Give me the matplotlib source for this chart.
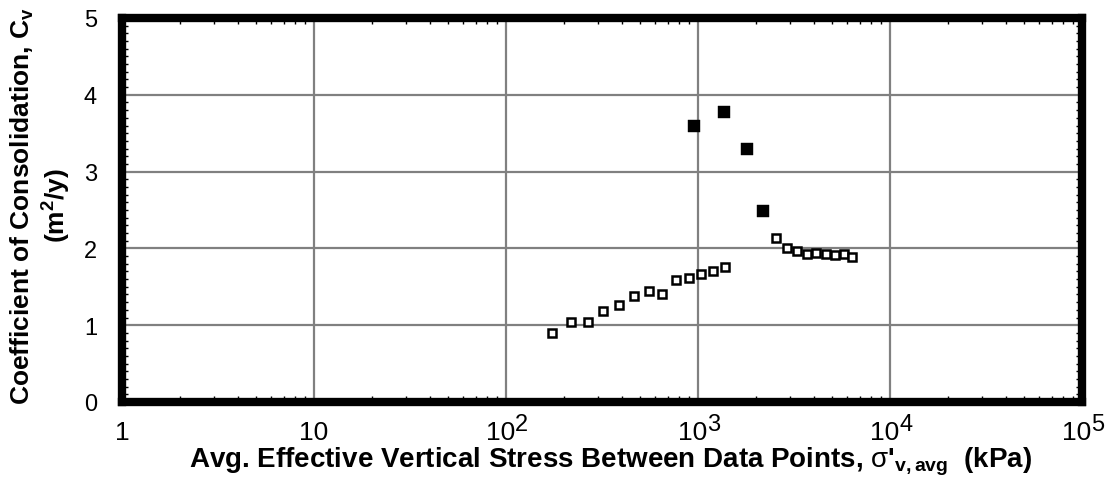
import matplotlib
matplotlib.use("Agg")
import matplotlib.pyplot as plt
from matplotlib.ticker import FixedLocator, NullFormatter, MultipleLocator
import numpy as np

plt.rcParams['font.family'] = ['Liberation Sans', 'DejaVu Sans']
plt.rcParams['mathtext.fontset'] = 'custom'
plt.rcParams['mathtext.rm'] = 'Liberation Sans'
plt.rcParams['mathtext.it'] = 'Liberation Sans:italic'
plt.rcParams['mathtext.bf'] = 'Liberation Sans:bold'

# open squares (normal points)
stress_open = [174, 217, 267, 321, 389, 464, 554, 652, 768, 895, 1041, 1202, 1383,
               2540, 2910, 3290, 3697, 4133, 4627, 5173, 5741, 6366]
cv_open = [0.90, 1.04, 1.04, 1.19, 1.26, 1.38, 1.44, 1.40, 1.59, 1.62, 1.67, 1.71, 1.76,
           2.14, 2.00, 1.96, 1.93, 1.94, 1.93, 1.91, 1.93, 1.89]

# filled squares
stress_fill = [957, 1365, 1794, 2182]
cv_fill = [3.59, 3.77, 3.29, 2.49]

xticks = [1, 10, 100, 1000, 10000, 100000]
xtick_base = ['1', '10', '10', '10', '10', '10']
xtick_exp = ['', '', '2', '3', '4', '5']

fig = plt.figure(figsize=(11.1, 4.81), dpi=100)
ax = fig.add_axes([122 / 1110, 1 - 403 / 481, 960 / 1110, 384 / 481])

ax.plot(stress_open, cv_open, 's', mfc='white', mec='black', ms=6.4, mew=1.8)
ax.plot(stress_fill, cv_fill, 's', color='black', ms=8.2, mew=0.3)

ax.set_xscale('log')
ax.set_xlim(1, 1e5)
ax.set_ylim(0, 5)

ax.xaxis.set_major_locator(FixedLocator(xticks))
ax.xaxis.set_major_formatter(NullFormatter())
ax.xaxis.set_minor_locator(FixedLocator(
    [m * 10 ** d for d in range(5) for m in range(2, 10)]))
ax.xaxis.set_minor_formatter(NullFormatter())
ax.yaxis.set_major_locator(MultipleLocator(1))
ax.yaxis.set_minor_locator(MultipleLocator(0.1))

ax.tick_params(which='both', direction='in', top=True, right=True)
ax.tick_params(which='major', length=0, labelsize=17)
ax.tick_params(axis='y', which='major', pad=18)
ax.tick_params(which='minor', length=4.5, width=1)

ax.grid(True, which='major', color='#808080', lw=1.6)
ax.get_ygridlines()[1].set_color('black')
ax.get_ygridlines()[1].set_linewidth(1.2)
for s in ax.spines.values():
    s.set_linewidth(6)

# x tick labels: "10" with a large superscript
for v, b, e in zip(xticks, xtick_base, xtick_exp):
    if e:
        ax.annotate(b, xy=(v, 0), xycoords=('data', 'axes fraction'),
                    xytext=(6.5, -27), textcoords='offset points',
                    ha='right', va='baseline', fontsize=19, annotation_clip=False)
        ax.annotate(e, xy=(v, 0), xycoords=('data', 'axes fraction'),
                    xytext=(6.5, -20.5), textcoords='offset points',
                    ha='left', va='baseline', fontsize=17, annotation_clip=False)
    else:
        ax.annotate(b, xy=(v, 0), xycoords=('data', 'axes fraction'),
                    xytext=(0, -27), textcoords='offset points',
                    ha='center', va='baseline', fontsize=19, annotation_clip=False)

fig.text(611 / 1110, 1 - 468 / 481,
         "Avg. Effective Vertical Stress Between Data Points, $\\mathrm{\\sigma}$'$_{\\mathbf{v,avg}}$  (kPa)",
         fontsize=20, fontweight='bold', ha='center', va='baseline')
fig.text(41 / 1110, 1 - 206 / 481,
         "Coefficient of Consolidation, C$_{\\mathbf{v}}$\n(m$^{\\mathbf{2}}$/y)",
         fontsize=19, fontweight='bold', rotation=90, ha='center', va='center',
         multialignment='center', linespacing=1.2)

fig.savefig('out.png', dpi=100)
